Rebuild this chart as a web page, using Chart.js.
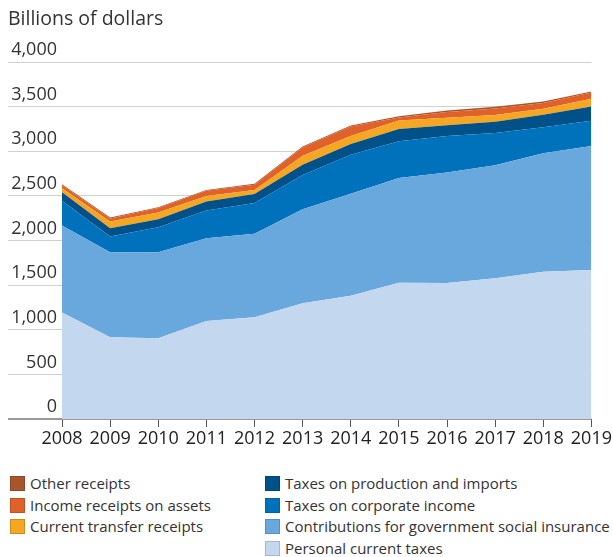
<!DOCTYPE html>
<html>
<head>
<meta charset="utf-8">
<script src="https://cdn.jsdelivr.net/npm/chart.js@4/dist/chart.umd.min.js"></script>
<style>
  body { margin: 0; background: #fff; font-family: "Open Sans", sans-serif; color: #333; }
  #wrap { position: relative; width: 613px; height: 557px; overflow: hidden; }
  #box { position: absolute; left: 0; top: 0; width: 613px; height: 460px; }
  #ytitle { position: absolute; left: 8px; top: 4px; font-size: 19.5px; color: #333; }
  .leg { position: absolute; font-size: 15px; line-height: 21.5px; white-space: nowrap; }
  .leg div { height: 21.5px; }
  .leg span.sw { display: inline-block; width: 15px; height: 15px; vertical-align: -2px; margin-right: 5px; box-sizing: border-box; border: 1px solid rgba(0,0,0,0.15); }
</style>
</head>
<body>
<div id="wrap">
  <div id="box"><canvas id="myChart"></canvas></div>
  <div id="ytitle">Billions of dollars</div>
  <div class="leg" id="legL" style="left:10px; top:473px;"></div>
  <div class="leg" id="legR" style="left:265px; top:473px;"></div>
</div>
<script>
var years = ['2008','2009','2010','2011','2012','2013','2014','2015','2016','2017','2018','2019'];
var yTicks = [0, 500, 1000, 1500, 2000, 2500, 3000, 3500, 4000];

// billions of dollars
var personalTaxes   = [1192, 916, 906, 1099, 1140, 1297, 1382, 1528, 1525, 1577, 1651, 1670];
var socialInsurance = [975, 953, 963, 927, 935, 1053, 1143, 1172, 1236, 1267, 1327, 1388];
var corporateTaxes  = [278, 175, 280, 309, 345, 385, 435, 412, 409, 361, 292, 283];
var productionTaxes = [95, 93, 90, 101, 102, 115, 120, 138, 120, 125, 140, 160];
var transferReceipts = [46, 75, 74, 64, 45, 100, 92, 94, 85, 75, 65, 86];
var assetReceipts   = [34, 35, 50, 57, 58, 93, 106, 35, 65, 75, 65, 71];
var otherReceipts   = [10, 10, 10, 10, 10, 10, 10, 13, 16, 20, 17, 11];

var series = [
  {label: 'Personal current taxes', data: personalTaxes, color: '#c3d7ee'},
  {label: 'Contributions for government social insurance', data: socialInsurance, color: '#68a8dc'},
  {label: 'Taxes on corporate income', data: corporateTaxes, color: '#0072bc'},
  {label: 'Taxes on production and imports', data: productionTaxes, color: '#00508a'},
  {label: 'Current transfer receipts', data: transferReceipts, color: '#f5a623'},
  {label: 'Income receipts on assets', data: assetReceipts, color: '#e0622a'},
  {label: 'Other receipts', data: otherReceipts, color: '#a9552c'}
];

var datasets = series.map(function (s, i) {
  return {
    label: s.label,
    data: s.data,
    backgroundColor: s.color,
    borderWidth: 0,
    pointRadius: 0,
    tension: 0,
    fill: i === 0 ? 'origin' : '-1'
  };
});

// legend, two columns like the original
function addLeg(id, list) {
  var el = document.getElementById(id);
  list.forEach(function (s) {
    var d = document.createElement('div');
    d.innerHTML = '<span class="sw" style="background:' + s.color + '"></span>' + s.label;
    el.appendChild(d);
  });
}
addLeg('legL', [series[6], series[5], series[4]]);
addLeg('legR', [series[3], series[2], series[1], series[0]]);

var yLabels = {
  id: 'yLabels',
  afterDraw: function (chart) {
    var ctx = chart.ctx;
    var y = chart.scales.y;
    ctx.save();
    ctx.font = '18px "Open Sans"';
    ctx.fillStyle = '#333';
    ctx.textAlign = 'right';
    ctx.textBaseline = 'bottom';
    yTicks.forEach(function (v) {
      ctx.fillText(v.toLocaleString('en-US'), 57, y.getPixelForValue(v) - 3);
    });
    ctx.restore();
  }
};

var ctx = document.getElementById('myChart').getContext('2d');
var myChart = new Chart(ctx, {
  type: 'line',
  data: { labels: years, datasets: datasets },
  plugins: [yLabels],
  options: {
    responsive: true,
    maintainAspectRatio: false,
    animation: false,
    layout: { padding: { left: 8, right: 21, top: 62, bottom: 0 } },
    plugins: { legend: { display: false }, tooltip: { enabled: false } },
    scales: {
      x: {
        offset: false,
        grid: { drawOnChartArea: false, tickLength: 8, color: '#555', lineWidth: 1 },
        border: { display: false },
        ticks: { color: '#222', font: { family: 'Open Sans', size: 18 }, padding: 1, maxRotation: 0, autoSkip: false },
        afterFit: function (s) { s.height = 41; }
      },
      y: {
        stacked: true,
        min: 0,
        max: 4000,
        z: 1,
        afterBuildTicks: function (s) { s.ticks = yTicks.map(function (v) { return {value: v}; }); },
        afterFit: function (s) { s.width = 54; },
        border: { display: false },
        ticks: { display: false },
        grid: {
          tickLength: 54,
          color: function (c) { return c.tick && c.tick.value === 0 ? '#999' : 'rgba(185,185,185,0.65)'; },
          lineWidth: function (c) { return c.tick && c.tick.value === 0 ? 2 : 1; }
        }
      }
    }
  }
});
</script>
</body>
</html>
